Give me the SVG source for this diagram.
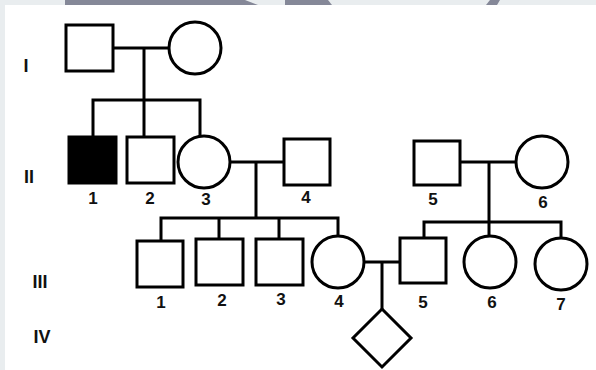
<svg xmlns="http://www.w3.org/2000/svg" width="596" height="370" viewBox="0 0 596 370">
<style>
.s{fill:#fff;stroke:#000;stroke-width:3}
.a{fill:#000;stroke:#000;stroke-width:3}
.c line,.c polyline{stroke:#000;stroke-width:3;fill:none}
text{font-family:"Liberation Sans",Arial,sans-serif;font-weight:bold;fill:#111;text-anchor:middle}
.n{font-size:17px}
.g{font-size:18px}
</style>
<rect width="596" height="370" fill="#e9edef"/>
<polygon points="65,0 245,0 258,5 65,5" fill="#858898"/>
<polygon points="285,0 328,0 332,5 285,5" fill="#858898"/>
<polygon points="486,5 490,0 500,0 497,5" fill="#858898"/>
<rect x="5" y="5" width="591" height="365" fill="#fff"/>
<g id="gen-labels">
<text class="g" x="26" y="72">I</text>
<text class="g" x="29" y="183">II</text>
<text class="g" x="40" y="288">III</text>
<text class="g" x="42" y="343">IV</text>
</g>
<g id="connectors" class="c">
<line x1="113" y1="48" x2="169" y2="48"/>
<line x1="144" y1="48" x2="144" y2="100"/>
<polyline points="93,137 93,100 200,100 200,136"/>
<line x1="144" y1="100" x2="144" y2="137"/>
<line x1="230" y1="162" x2="284" y2="162"/>
<line x1="256" y1="162" x2="256" y2="218"/>
<polyline points="161,241 161,218 338,218 338,236"/>
<line x1="219" y1="218" x2="219" y2="239"/>
<line x1="279" y1="218" x2="279" y2="239"/>
<line x1="460" y1="162" x2="516" y2="162"/>
<line x1="489" y1="162" x2="489" y2="222"/>
<polyline points="424,238 424,222 561,222 561,238"/>
<line x1="489" y1="222" x2="489" y2="236"/>
<line x1="364" y1="262" x2="400" y2="262"/>
<line x1="382" y1="262" x2="382" y2="309"/>
</g>
<g id="I-1"><rect class="s" x="66" y="25" width="47" height="46"/></g>
<g id="I-2"><circle class="s" cx="195" cy="48" r="26"/></g>
<g id="II-1"><rect class="a" x="69" y="137" width="47" height="46"/><text class="n" x="93" y="204">1</text></g>
<g id="II-2"><rect class="s" x="127" y="137" width="47" height="46"/><text class="n" x="150" y="204">2</text></g>
<g id="II-3"><circle class="s" cx="204" cy="162" r="26"/><text class="n" x="206" y="205">3</text></g>
<g id="II-4"><rect class="s" x="284" y="139" width="46" height="46"/><text class="n" x="306" y="203">4</text></g>
<g id="II-5"><rect class="s" x="414" y="141" width="46" height="44"/><text class="n" x="433" y="205">5</text></g>
<g id="II-6"><circle class="s" cx="542" cy="162" r="26"/><text class="n" x="543" y="208">6</text></g>
<g id="III-1"><rect class="s" x="137" y="241" width="46" height="46"/><text class="n" x="161" y="308">1</text></g>
<g id="III-2"><rect class="s" x="196" y="239" width="47" height="46"/><text class="n" x="222" y="306">2</text></g>
<g id="III-3"><rect class="s" x="256" y="239" width="47" height="46"/><text class="n" x="281" y="305">3</text></g>
<g id="III-4"><circle class="s" cx="338" cy="262" r="26"/><text class="n" x="339" y="307">4</text></g>
<g id="III-5"><rect class="s" x="400" y="238" width="46" height="45"/><text class="n" x="423" y="308">5</text></g>
<g id="III-6"><circle class="s" cx="490" cy="262" r="26"/><text class="n" x="492" y="308">6</text></g>
<g id="III-7"><circle class="s" cx="561" cy="264" r="26"/><text class="n" x="561" y="310">7</text></g>
<g id="IV-1"><polygon class="s" points="382,309 411,338 382,367 353,338"/></g>
</svg>
